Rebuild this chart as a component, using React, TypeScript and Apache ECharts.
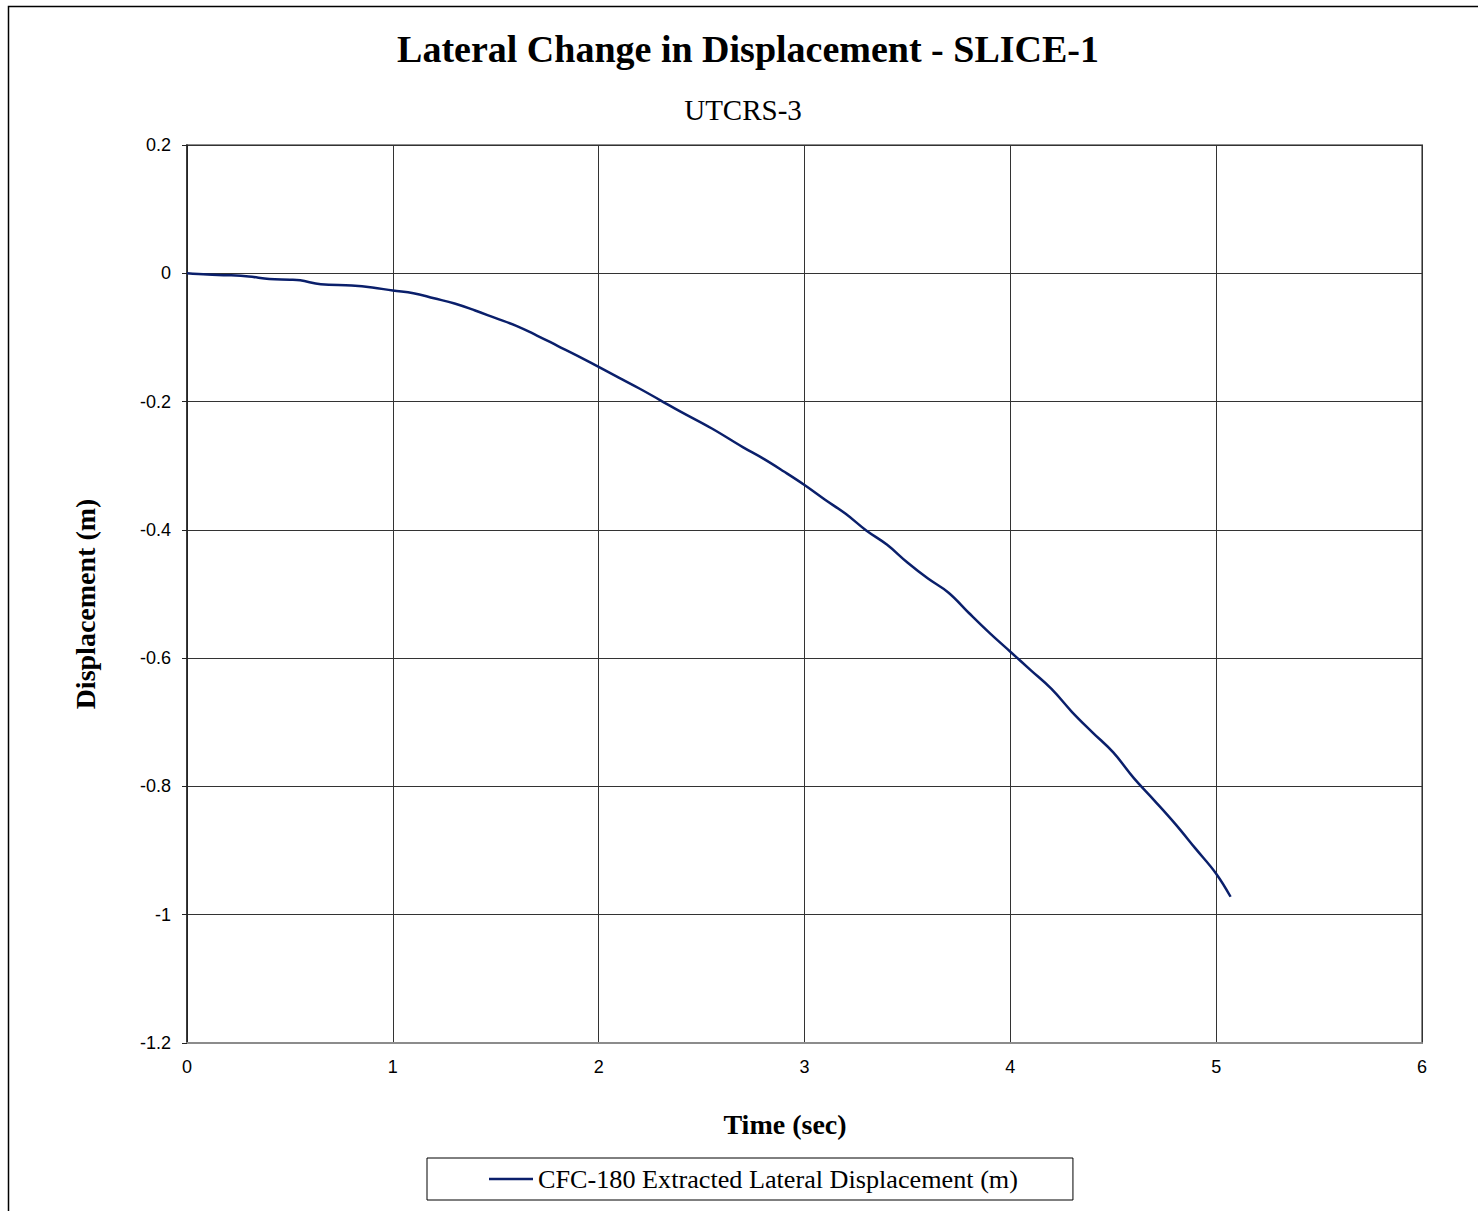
import React, { useEffect, useRef } from "react";
import * as echarts from "echarts";

const chartTitle = "Lateral Change in Displacement - SLICE-1";
const chartSubtitle = "UTCRS-3";
const xAxisTitle = "Time (sec)";
const yAxisTitle = "Displacement (m)";
const seriesName = "CFC-180 Extracted Lateral Displacement (m)";

const timeSec = [
  0, 0.1, 0.2, 0.3, 0.4, 0.5, 0.55, 0.65, 0.8, 0.9, 1.0, 1.1, 1.2, 1.3, 1.4, 1.5, 1.6,
  1.7, 1.8, 1.9, 2.0, 2.1, 2.2, 2.3, 2.4, 2.55, 2.7, 2.8, 2.9, 3.0, 3.1, 3.2, 3.3, 3.4,
  3.5, 3.6, 3.7, 3.8, 3.9, 4.0, 4.1, 4.2, 4.3, 4.4, 4.5, 4.6, 4.7, 4.8, 4.9, 5.0, 5.07,
];
const displacement = [
  0, -0.002, -0.003, -0.005, -0.009, -0.01, -0.011, -0.017, -0.019, -0.022, -0.027,
  -0.031, -0.039, -0.047, -0.058, -0.07, -0.082, -0.097, -0.113, -0.129, -0.146,
  -0.163, -0.18, -0.198, -0.216, -0.242, -0.271, -0.289, -0.309, -0.33, -0.353,
  -0.375, -0.401, -0.423, -0.451, -0.476, -0.498, -0.53, -0.561, -0.59, -0.619, -0.648,
  -0.684, -0.716, -0.747, -0.787, -0.822, -0.858, -0.897, -0.936, -0.972,
];

const xTicks = { min: 0, max: 6, interval: 1 };
const yTicks = { min: -1.2, max: 0.2, interval: 0.2 };

export default function App() {
  const ref = useRef<HTMLDivElement>(null);

  useEffect(() => {
    if (!ref.current) return;
    const chart = echarts.init(ref.current, undefined, { renderer: "svg" });
    const serif = "'Liberation Serif', 'Times New Roman', serif";
    const sans = "'Liberation Sans', Arial, sans-serif";
    const data = timeSec.map((t, i) => [t, displacement[i]]);

    chart.setOption({
      animation: false,
      backgroundColor: "#ffffff",
      grid: {
        left: 187,
        top: 145,
        width: 1235,
        height: 898,
        show: true,
        borderColor: "#8c8c8c",
        borderWidth: 2,
        backgroundColor: "transparent",
      },
      xAxis: {
        type: "value",
        min: xTicks.min,
        max: xTicks.max,
        interval: xTicks.interval,
        axisLine: { show: true, onZero: false, lineStyle: { color: "#8c8c8c", width: 2 } },
        axisTick: { show: false },
        axisLabel: {
          fontFamily: sans,
          fontSize: 18,
          color: "#000",
          margin: 15,
        },
        splitLine: { show: true, lineStyle: { color: "#333", width: 1 } },
      },
      yAxis: {
        type: "value",
        min: yTicks.min,
        max: yTicks.max,
        interval: yTicks.interval,
        axisLine: { show: true, onZero: false, lineStyle: { color: "#222", width: 1.5 } },
        axisTick: { show: true, inside: false, length: 5, lineStyle: { color: "#222" } },
        axisLabel: {
          fontFamily: sans,
          fontSize: 18,
          color: "#000",
          margin: 16,
          formatter: (v: number) => String(Number(v.toFixed(1))),
        },
        splitLine: { show: true, lineStyle: { color: "#333", width: 1 } },
      },
      legend: {
        show: true,
        left: 427,
        top: 1158,
        orient: "horizontal",
        icon: "rect",
        itemWidth: 44,
        itemHeight: 2.5,
        borderColor: "#000",
        borderWidth: 1,
        padding: [8, 55, 8, 62],
        textStyle: { fontFamily: serif, fontSize: 26.2, color: "#000" },
        data: [seriesName],
      },
      series: [
        {
          name: seriesName,
          type: "line",
          data,
          symbol: "none",
          smooth: 0.4,
          lineStyle: { color: "#0a1f6b", width: 2.5 },
          itemStyle: { color: "#0a1f6b" },
        },
      ],
      graphic: [
        {
          type: "rect",
          silent: true,
          shape: { x: 8.5, y: 6.5, width: 1600, height: 1400 },
          style: { fill: "none", stroke: "#000", lineWidth: 1.5 },
        },
        {
          type: "text",
          x: 748,
          y: 49,
          style: {
            text: chartTitle,
            fontFamily: serif,
            fontWeight: "bold",
            fontSize: 38,
            fill: "#000",
            textAlign: "center",
            textVerticalAlign: "middle",
          },
        },
        {
          type: "text",
          x: 743,
          y: 110,
          style: {
            text: chartSubtitle,
            fontFamily: serif,
            fontSize: 29,
            fill: "#000",
            textAlign: "center",
            textVerticalAlign: "middle",
          },
        },
        {
          type: "text",
          x: 785,
          y: 1124,
          style: {
            text: xAxisTitle,
            fontFamily: serif,
            fontWeight: "bold",
            fontSize: 28,
            fill: "#000",
            textAlign: "center",
            textVerticalAlign: "middle",
          },
        },
        {
          type: "text",
          x: 85,
          y: 604,
          rotation: Math.PI / 2,
          style: {
            text: yAxisTitle,
            fontFamily: serif,
            fontWeight: "bold",
            fontSize: 28,
            fill: "#000",
            textAlign: "center",
            textVerticalAlign: "middle",
          },
        },
      ],
    });

    return () => chart.dispose();
  }, []);

  return (
    <div
      ref={ref}
      style={{
        position: "fixed",
        left: 0,
        top: 0,
        width: 1478,
        height: 1211,
        background: "#fff",
      }}
    />
  );
}
